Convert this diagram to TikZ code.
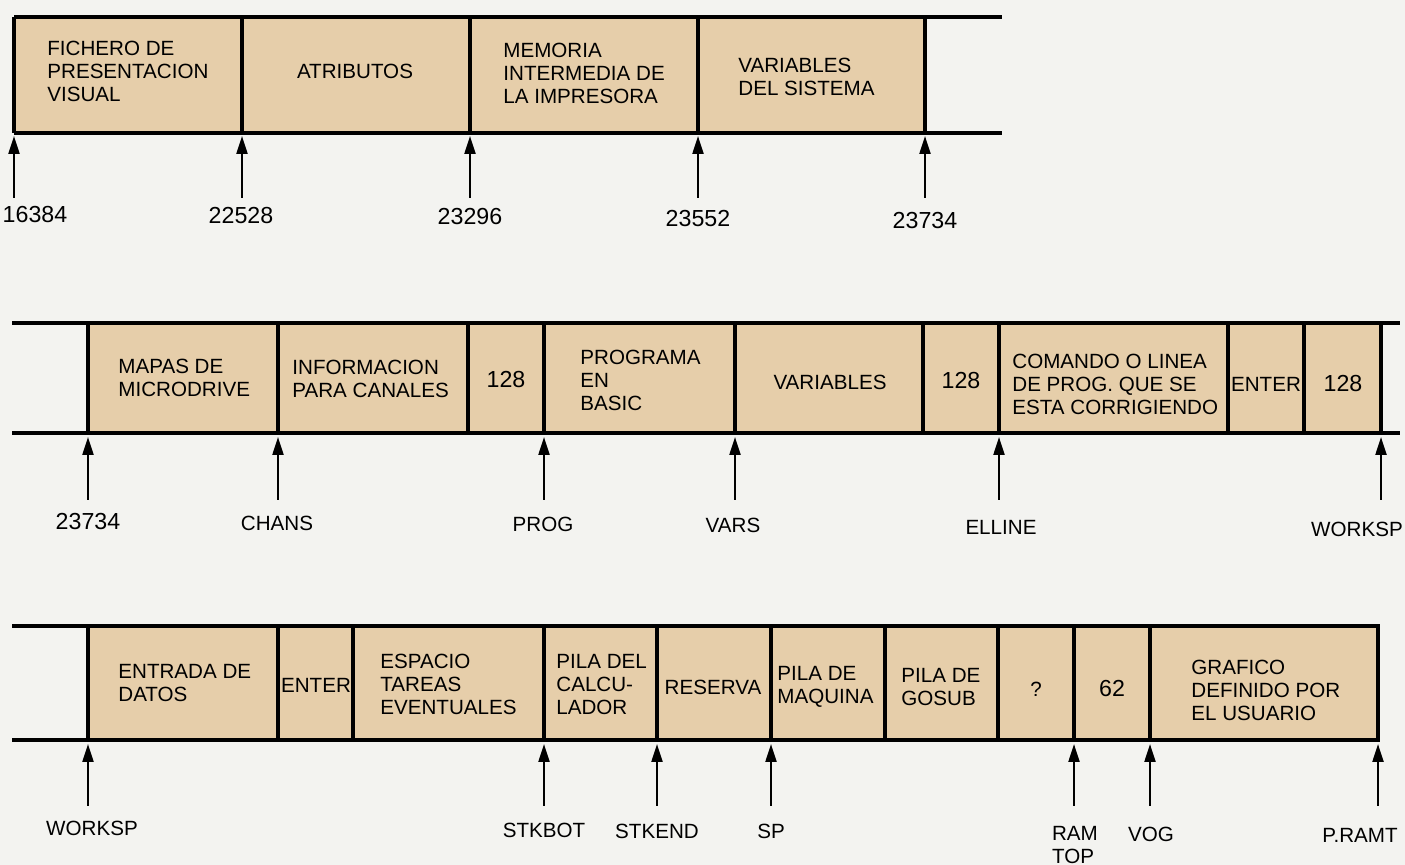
\documentclass[tikz,border=0pt]{standalone}
\usepackage{fontspec}
\setmainfont{Liberation Sans}
\usetikzlibrary{arrows.meta}
\definecolor{papel}{RGB}{243,243,240}
\definecolor{celda}{RGB}{230,206,170}
\newcommand{\letra}{\fontsize{10.3}{11.5}\selectfont}
\newcommand{\cifra}{\fontsize{11.6}{13}\selectfont}
\tikzset{
  linea/.style={line width=2pt},
  tabique/.style={line width=1.6pt},
  flecha/.style={line width=1.1pt,-{Triangle[length=9pt,width=5.5pt]}},
  rotulo/.style={anchor=west,align=left,inner sep=0pt,font=\letra},
  centro/.style={align=center,inner sep=0pt,font=\letra},
  numero/.style={align=center,inner sep=0pt,font=\cifra},
  dir/.style={align=left,inner sep=0pt,font=\letra}
}
\begin{document}
\begin{tikzpicture}[x=0.5pt,y=0.5pt,yscale=-1,xscale=1]
%set diagram size: 1405 x 865
\fill[papel] (0,0) rectangle (1405,865);

%%%%% Row 1
%Shape: Rectangle [id:fila1]
\fill[celda] (14,17) rectangle (925,133);
%Straight Lines [id:arriba1]
\draw[linea] (14,17) -- (1002,17);
%Straight Lines [id:abajo1]
\draw[linea] (14,133) -- (1002,133);
\foreach \x in {14,242,470,698,925}
  \draw[tabique] (\x,17) -- (\x,133);

% Text Node
\node[rotulo] (fichero) at (47,71) {FICHERO DE\\PRESENTACION\\VISUAL};
\node[centro] (atributos) at (355,71) {ATRIBUTOS};
\node[rotulo] (memoria) at (503,73) {MEMORIA\\INTERMEDIA DE\\LA IMPRESORA};
\node[rotulo] (sistema) at (738,76.5) {VARIABLES\\DEL SISTEMA};

%Arrows
\foreach \x/\n in {14/a,242/b,470/c,698/d,925/e}{
  \coordinate (t1\n) at (\x,198);
  \coordinate (p1\n) at (\x,136);
  \draw[flecha] (t1\n) -- (p1\n);
}
\node[numero] (d16384) at (35,215) {16384};
\node[numero] (d22528) at (241,216) {22528};
\node[numero] (d23296) at (470,217) {23296};
\node[numero] (d23552) at (698,219) {23552};
\node[numero] (d23734a) at (925,221) {23734};

%%%%% Row 2
\fill[celda] (88,323) rectangle (1381,433);
\draw[linea] (12,323) -- (1400,323);
\draw[linea] (12,433) -- (1400,433);
\foreach \x in {88,278,468,544,735,923,999,1228,1304,1381}
  \draw[tabique] (\x,323) -- (\x,433);

% Text Node
\node[rotulo] (mapas) at (118,377.5) {MAPAS DE\\MICRODRIVE};
\node[rotulo] (canales) at (292,378.5) {INFORMACION\\PARA CANALES};
\node[numero] (ciento1) at (506,380) {128};
\node[rotulo] (programa) at (580,380) {PROGRAMA\\EN\\BASIC};
\node[centro] (variables) at (830,382) {VARIABLES};
\node[numero] (ciento2) at (961,381) {128};
\node[rotulo] (comando) at (1012,384) {COMANDO O LINEA\\DE PROG. QUE SE\\ESTA CORRIGIENDO};
\node[centro] (enter1) at (1266,384) {ENTER};
\node[numero] (ciento3) at (1343,384) {128};

%Arrows
\foreach \x/\n in {88/a,278/b,544/c,735/d,999/e,1381/f}{
  \coordinate (t2\n) at (\x,500);
  \coordinate (p2\n) at (\x,437);
  \draw[flecha] (t2\n) -- (p2\n);
}
\node[numero] (d23734b) at (88,522) {23734};
\node[dir] (chans) at (277,523) {CHANS};
\node[dir] (prog) at (543,524) {PROG};
\node[dir] (vars) at (733,525) {VARS};
\node[dir] (elline) at (1001,527) {ELLINE};
\node[dir] (worksp1) at (1357,529) {WORKSP};

%%%%% Row 3
\fill[celda] (88,626) rectangle (1378,740);
\draw[linea] (12,626) -- (1380,626);
\draw[linea] (12,740) -- (1380,740);
\foreach \x in {88,278,353,544,657,771,885,998,1074,1150,1378}
  \draw[tabique] (\x,626) -- (\x,740);

% Text Node
\node[rotulo] (entrada) at (118,683) {ENTRADA DE\\DATOS};
\node[centro] (enter2) at (316,685) {ENTER};
\node[rotulo] (espacio) at (380,684.5) {ESPACIO\\TAREAS\\EVENTUALES};
\node[rotulo] (calculador) at (556,684.5) {PILA DEL\\CALCU-\\LADOR};
\node[centro] (reserva) at (713,687) {RESERVA};
\node[rotulo] (maquina) at (777,686.5) {PILA DE\\MAQUINA};
\node[rotulo] (gosub) at (901,687.5) {PILA DE\\GOSUB};
\node[centro] (duda) at (1036,689) {?};
\node[numero] (sesenta) at (1112,689) {62};
\node[rotulo] (grafico) at (1191,690.5) {GRAFICO\\DEFINIDO POR\\EL USUARIO};

%Arrows
\foreach \x/\n in {88/a,544/b,657/c,771/d,1074/e,1150/f,1378/g}{
  \coordinate (t3\n) at (\x,806);
  \coordinate (p3\n) at (\x,744);
  \draw[flecha] (t3\n) -- (p3\n);
}
\node[dir] (worksp2) at (92,828) {WORKSP};
\node[dir] (stkbot) at (544,830) {STKBOT};
\node[dir] (stkend) at (657,831) {STKEND};
\node[dir] (sp) at (771,831) {SP};
\node[dir] (ramtop) at (1075,845) {RAM\\TOP};
\node[dir] (vog) at (1151,834) {VOG};
\node[dir] (pramt) at (1360,835) {P.RAMT};

\end{tikzpicture}
\end{document}
